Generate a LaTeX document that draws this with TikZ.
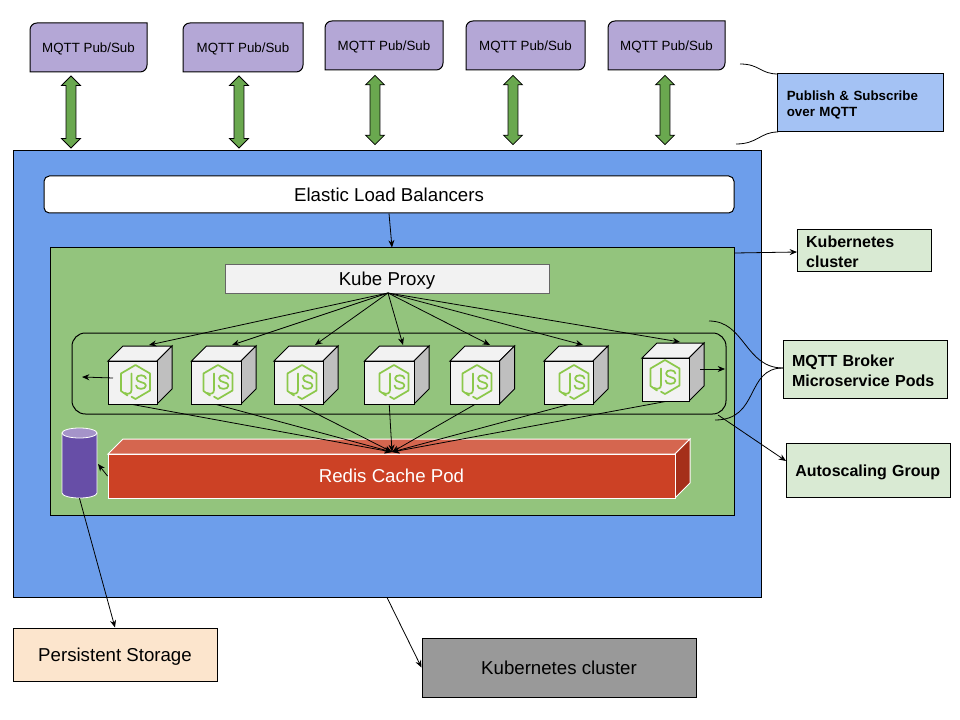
\documentclass[tikz,border=0pt]{standalone}
\usepackage{fontspec}
\setmainfont{Liberation Sans}
\usetikzlibrary{arrows.meta,shapes.arrows}
\definecolor{pubpurple}{HTML}{B4A7D6}
\definecolor{linkgreen}{HTML}{6AA84F}
\definecolor{outerblue}{HTML}{6D9EEB}
\definecolor{innergreen}{HTML}{93C47D}
\definecolor{notegreen}{HTML}{D9EAD3}
\definecolor{noteblue}{HTML}{A4C2F4}
\definecolor{jsgreen}{HTML}{8CC84B}
\definecolor{redisred}{HTML}{CC4125}
\definecolor{redistop}{HTML}{D5664F}
\definecolor{redisside}{HTML}{A52F1A}
\definecolor{diskpurple}{HTML}{674EA7}
\definecolor{disktop}{HTML}{A594C9}
\definecolor{storepeach}{HTML}{FCE5CD}
\tikzset{
  boxsize/.style 2 args={minimum width=(#1)*0.75pt,minimum height=(#2)*0.75pt,inner sep=0pt},
  plainbox/.style={draw=black,line width=0.75pt,font=\fontsize{14}{17}\selectfont,text height=10pt,text depth=0pt},
  notebox/.style={draw=black,line width=0.75pt,align=left,inner sep=0pt,font=\fontsize{12}{15}\selectfont\bfseries},
  linkarrow/.style={draw=black,fill=linkgreen,line width=0.6pt,shape=double arrow,rotate=90,
    double arrow head extend=3.4pt,inner xsep=0pt,inner ysep=3.4pt,minimum width=13.5pt},
  flow/.style={-{Stealth[length=5.5pt,width=4.5pt]},line width=0.6pt,black},
  brace/.style={line width=0.6pt,black},
  podface/.style={draw=black,line width=0.75pt,fill=#1},
}
\newcommand{\pubbox}[5]{
  \draw[podface=pubpurple] (#2+7,#3) -- (#4,#3) -- (#4,#5-7) .. controls (#4,#5-3) and (#4-3,#5) .. (#4-7,#5)
    -- (#2,#5) -- (#2,#3+7) .. controls (#2,#3+3) and (#2+3,#3) .. (#2+7,#3) -- cycle;
  \node[font=\fontsize{10}{12}\selectfont,text height=7.2pt,text depth=0pt] (#1) at ({(#2+#4)/2},{(#3+#5)/2+0.5}) {MQTT Pub/Sub};
}
\newcommand{\jslogo}[2]{
  \begin{scope}[shift={(#1,#2)},draw=jsgreen,line width=1.3pt,line join=round,line cap=round]
    \draw (-8,13.5) -- (-14.5,9) -- (-14.5,-8.5) -- (0,-17) -- (14.5,-8.5) -- (14.5,8.5) -- (0,17) -- (-4,14.7);
    \draw (-4,-8.5) -- (-4,8) .. controls (-4,12) and (-8,12.5) .. (-10.5,11);
    \draw (10.5,-3.5) .. controls (10.5,-7.5) and (1,-8) .. (1,-3.5) .. controls (1,1) and (10.5,-0.5) .. (10.5,3.5)
      .. controls (10.5,8) and (0.5,8) .. (0.5,3.5);
  \end{scope}
}
\newcommand{\podcube}[6]{
  \draw[podface=black!5] (#2,#3) -- (#2+15,#3-15) -- (#4+15,#3-15) -- (#4,#3) -- cycle;
  \draw[podface=black!25] (#4,#3) -- (#4+15,#3-15) -- (#4+15,#3+28) -- (#4,#3+43) -- cycle;
  \node[podface=black!5,boxsize={#4-#2}{43}] (#1) at ({(#2+#4)/2},#3+21.5) {};
  \jslogo{#5}{#6}
}
\begin{document}
\begin{tikzpicture}[x=0.75pt,y=-0.75pt]
  \useasboundingbox (0,0) rectangle (960,720);
  \pubbox{pub1}{30}{23}{147}{72}
  \pubbox{pub2}{183}{23}{303}{72}
  \pubbox{pub3}{325}{21}{443}{70}
  \pubbox{pub4}{466}{21}{585}{70}
  \pubbox{pub5}{608}{21}{725}{70}
  \node[linkarrow,minimum height=54pt] (link1) at (71,112) {};
  \node[linkarrow,minimum height=54pt] (link2) at (239,112) {};
  \node[linkarrow,minimum height=52pt] (link3) at (375,110) {};
  \node[linkarrow,minimum height=52pt] (link4) at (513,110) {};
  \node[linkarrow,minimum height=52pt] (link5) at (665,110) {};

  \node[draw=black,line width=0.75pt,fill=outerblue,boxsize={748}{446}] (cloud) at (387,374) {};
  \node[plainbox,fill=white,rounded corners=4pt,boxsize={690}{37}] (elb) at (389,194.5) {Elastic Load Balancers};
  \node[draw=black,line width=0.75pt,fill=innergreen,boxsize={684}{267}] (cluster) at (392,381.5) {};
  \node[plainbox,draw=black!60,line width=0.5pt,fill=black!5,boxsize={324}{29}] (proxy) at (387,278.5) {Kube Proxy};
  \node[draw=black,line width=0.75pt,rounded corners=10pt,boxsize={654}{81}] (pods) at (399,373.5) {};

  \podcube{pod1}{108}{361}{157}{135.5}{382}
  \podcube{pod2}{191.5}{361}{241}{218}{382}
  \podcube{pod3}{274}{361}{323}{302}{382}
  \podcube{pod4}{364.5}{361}{414}{394}{382}
  \podcube{pod5}{450}{361}{499.5}{477}{382}
  \podcube{pod6}{544}{361}{593}{574}{382}
  \podcube{pod7}{642}{358}{689}{665}{377}

  \draw[draw=white,line width=0.75pt,fill=redistop] (108,454) -- (123,439) -- (690,439) -- (675,454) -- cycle;
  \draw[draw=white,line width=0.75pt,fill=redisside] (675,454) -- (690,439) -- (690,483) -- (675,498) -- cycle;
  \node[plainbox,draw=white,fill=redisred,text=white,boxsize={567}{44}] (redis) at (391.5,476) {Redis Cache Pod};
  \draw[draw=white,line width=0.6pt,fill=diskpurple] (62,433) -- (62,493)
    arc[start angle=180,end angle=0,x radius=17.5,y radius=5] -- (97,433) -- cycle;
  \draw[draw=white,line width=0.6pt,fill=disktop] (79.5,433) ellipse[x radius=17.5,y radius=5];
  \node[boxsize={35}{70}] (disk) at (79.5,463) {};

  \node[plainbox,fill=storepeach,boxsize={204}{53}] (store) at (115,654.5) {Persistent Storage};
  \node[plainbox,fill=black!40,boxsize={274}{59}] (k8sgrey) at (559,667.5) {Kubernetes cluster};
  \node[notebox,fill=noteblue,font=\fontsize{10}{12}\selectfont\bfseries,text depth=9.5pt,text width=110.5pt,minimum height=44pt,minimum width=124pt] (pubnote) at (860.5,102.5) {Publish \& Subscribe\\over MQTT};
  \node[notebox,fill=notegreen,text depth=13.5pt,text width=87.5pt,minimum height=32pt,minimum width=101pt] (k8snote) at (864.5,250.5) {Kubernetes\\cluster};
  \node[notebox,fill=notegreen,text depth=12.8pt,text width=109.5pt,minimum height=43.5pt,minimum width=123pt] (mqttnote) at (865,369) {MQTT Broker\\Microservice Pods};
  \node[notebox,fill=notegreen,text height=8.6pt,text depth=0pt,text width=109pt,minimum height=41pt,minimum width=123pt] (scalenote) at (868,470.5) {Autoscaling Group};

  \coordinate (proxyfoot) at (388,293);
  \coordinate (redishub) at (392,452);
  \draw[flow] (elb.south) -- (cluster.north);
  \foreach \tipx/\tipy in {149/345,232/345,315/345,403/345,490/345,583/345,680/342}
    \draw[flow] (proxyfoot) -- (\tipx,\tipy);
  \foreach \podname in {pod1,pod2,pod3,pod4,pod5,pod6,pod7}
    \draw[flow] (\podname.south) -- (redishub);
  \coordinate (podleft) at (113,378);
  \coordinate (podright) at (700,369);
  \coordinate (diskside) at (98,464);
  \draw[flow] (podleft) -- (82,377);
  \draw[flow] (podright) -- (725,369);
  \draw[flow] (redis.west) -- (diskside);
  \draw[flow] (disk.south) -- (store.north);
  \draw[flow] (cloud.south) -- (k8sgrey.west);
  \draw[flow] (735,253) -- (797,252);
  \draw[flow] (718,415) -- (786,461);

  \draw[brace] (740,64) .. controls (760,64) and (760,74) .. (778,74);
  \draw[brace] (736,144) .. controls (758,144) and (760,132) .. (778,132);
  \draw[brace] (709,321) .. controls (745,321) and (745,368) .. (783,368);
  \draw[brace] (715,420) .. controls (760,420) and (745,368) .. (783,368);
\end{tikzpicture}
\end{document}
